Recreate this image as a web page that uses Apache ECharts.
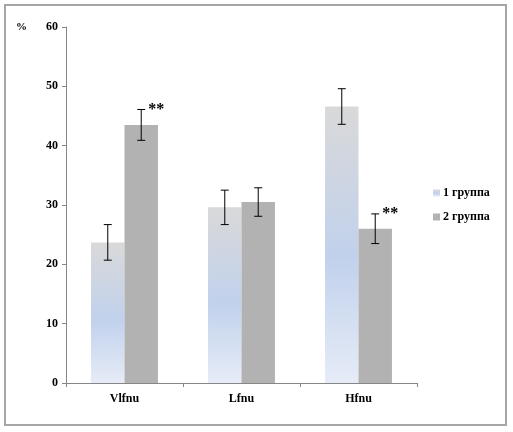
<!DOCTYPE html>
<html>
<head>
<meta charset="utf-8">
<script src="https://cdn.jsdelivr.net/npm/echarts@6/dist/echarts.min.js"></script>
<style>
  html, body { margin: 0; padding: 0; background: #fff; }
  #chart { width: 513px; height: 432px; }
</style>
</head>
<body>
<div id="chart"></div>
<script>
// --- Data ---
const categories = ['Vlfnu', 'Lfnu', 'Hfnu'];
const seriesNames = ['1 группа', '2 группа'];
const group1 = [23.7, 29.6, 46.6];
const group1Err = [3.0, 2.9, 3.0];
const group2 = [43.5, 30.5, 26.0];
const group2Err = [2.6, 2.4, 2.5];
const group2Marks = ['**', '', '**'];
const yTicks = [0, 10, 20, 30, 40, 50, 60];

const FONT = '"Liberation Serif", "Times New Roman", serif';
const BAR_W = 0.286; // share of category band

// --- Error bars (custom series) ---
function errorBars(values, errs, side, marks) {
  return {
    type: 'custom',
    silent: true,
    z: 10,
    data: values.map((v, i) => [i, v, errs[i], marks ? marks[i] : '']),
    renderItem(params, api) {
      const band = api.size([1, 0])[0];
      const off = side * band * BAR_W / 2;
      const top = api.coord([api.value(0), api.value(1) + api.value(2)]);
      const bot = api.coord([api.value(0), api.value(1) - api.value(2)]);
      const x = top[0] + off;
      const cap = 4;
      const style = { stroke: '#000', lineWidth: 1 };
      const children = [
        { type: 'line', shape: { x1: x, y1: top[1], x2: x, y2: bot[1] }, style },
        { type: 'line', shape: { x1: x - cap, y1: top[1], x2: x + cap, y2: top[1] }, style },
        { type: 'line', shape: { x1: x - cap, y1: bot[1], x2: x + cap, y2: bot[1] }, style },
      ];
      const mark = api.value(3);
      if (mark) {
        children.push({
          type: 'text',
          style: {
            x: x + 7, y: top[1] - 8, text: mark,
            fill: '#000', font: 'bold 16px ' + FONT,
          },
        });
      }
      return { type: 'group', children };
    },
  };
}

const chart = echarts.init(document.getElementById('chart'), null, { renderer: 'canvas' });

chart.setOption({
  backgroundColor: '#fff',
  animation: false,
  graphic: [
    {
      type: 'rect',
      shape: { x: 5, y: 5, width: 501, height: 420 },
      style: { fill: 'none', stroke: '#a6a6a6', lineWidth: 2 },
    },
    {
      type: 'text',
      left: 16, top: 22,
      style: { text: '%', fill: '#000', font: 'bold 11px ' + FONT },
    },
  ],
  legend: {
    data: seriesNames,
    orient: 'vertical',
    left: 428,
    top: 182,
    itemWidth: 7,
    itemHeight: 7,
    itemGap: 12,
    icon: 'rect',
    textStyle: { color: '#000', fontFamily: FONT, fontWeight: 'bold', fontSize: 12, padding: [0, 0, 0, -2] },
  },
  grid: { left: 66, right: 96, top: 27, bottom: 49 },
  xAxis: {
    type: 'category',
    data: categories,
    axisLine: { lineStyle: { color: '#868686' } },
    axisTick: { show: true, length: 4, lineStyle: { color: '#868686' } },
    axisLabel: { color: '#000', fontFamily: FONT, fontWeight: 'bold', fontSize: 12, margin: 10 },
  },
  yAxis: {
    type: 'value',
    min: yTicks[0],
    max: yTicks[yTicks.length - 1],
    interval: 10,
    axisLine: { show: true, lineStyle: { color: '#868686' } },
    axisTick: { show: true, length: 4, lineStyle: { color: '#868686' } },
    splitLine: { show: false },
    axisLabel: { color: '#000', fontFamily: FONT, fontWeight: 'bold', fontSize: 12, margin: 8 },
  },
  series: [
    {
      name: seriesNames[0],
      type: 'bar',
      data: group1,
      barWidth: (BAR_W * 100) + '%',
      barGap: '0%',
      itemStyle: {
        color: new echarts.graphic.LinearGradient(0, 0, 0, 1, [
          { offset: 0, color: '#d9d9d9' },
          { offset: 0.55, color: '#c1d1ec' },
          { offset: 1, color: '#e6ecf7' },
        ]),
      },
    },
    {
      name: seriesNames[1],
      type: 'bar',
      data: group2,
      barWidth: (BAR_W * 100) + '%',
      barGap: '0%',
      itemStyle: { color: '#b2b2b2' },
    },
    errorBars(group1, group1Err, -1),
    errorBars(group2, group2Err, 1, group2Marks),
  ],
});
</script>
</body>
</html>
